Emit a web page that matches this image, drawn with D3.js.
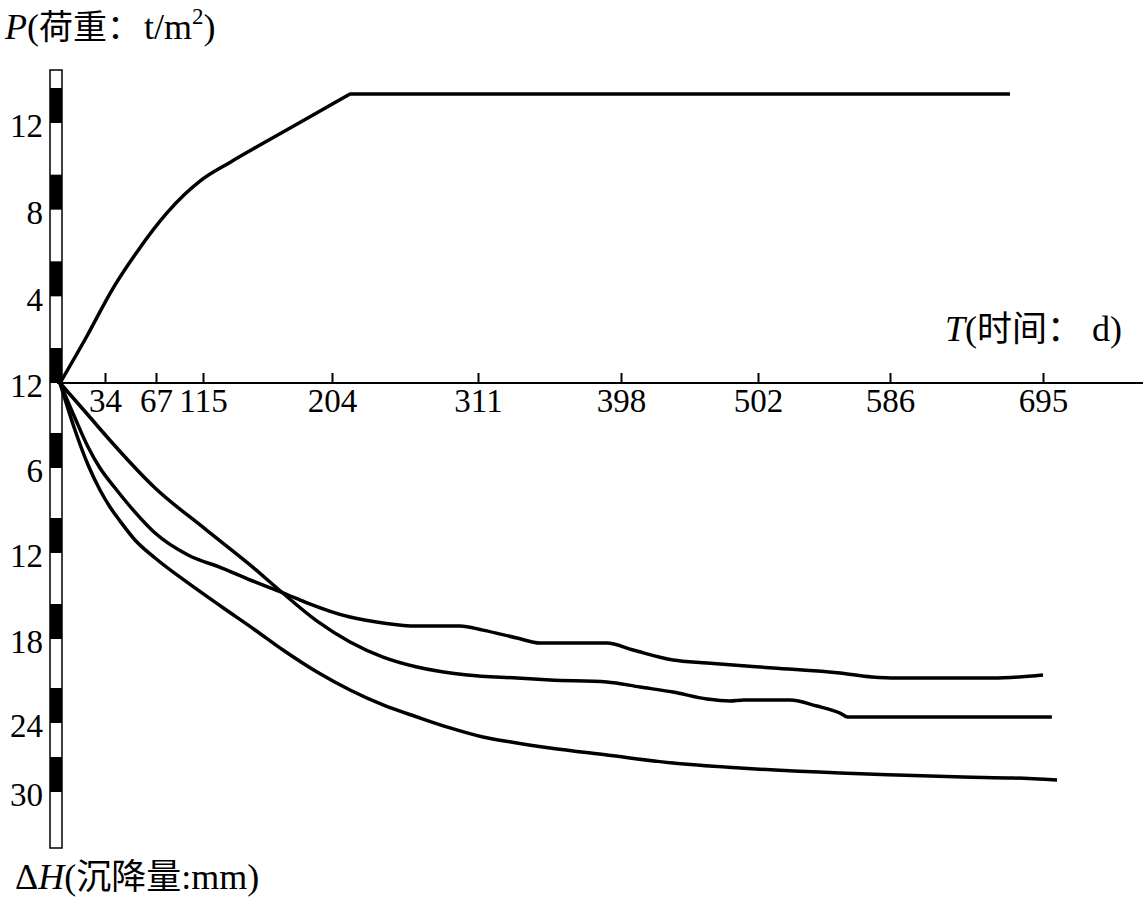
<!DOCTYPE html>
<html><head><meta charset="utf-8">
<script src="https://cdn.jsdelivr.net/npm/d3@7"></script>
<style>body{margin:0;background:#fff} svg{display:block}</style>
</head><body>
<script>
// ---- data ----
const timeTicks = [34, 67, 115, 204, 311, 398, 502, 586, 695];
const loadTicks = [4, 8, 12];
const settleTicks = [0, 6, 12, 18, 24, 30];
const settleTickLabels = ["12", "6", "12", "18", "24", "30"];

// load curve P (t/m2) vs time (d): rising part, then constant part
const loadT = [0, 20.4, 38.5, 54.7, 78.2, 96.6, 111.9, 133.6, 154.3, 180, 217.2];
const loadP = [0, 2.17, 4.29, 6.05, 7.85, 8.72, 9.32, 10.18, 10.98, 11.95, 13.34];
const loadFlatT = [217.2, 671.5];
const loadFlatP = [13.34, 13.34];

// settlement curve A (middle at end)
const setA_T = [0, 21.2, 35.9, 66.4, 116.4, 150.9, 166, 193.7, 217.2, 241.4, 266.3, 303, 334.7, 354.8, 389.4, 412.4, 437.5, 463.3, 480.7, 491.3, 522.4, 539.5, 554.2, 559.2, 701.3];
const setA_H = [0, 2.26, 3.88, 7.41, 10.3, 13.12, 14.44, 16.75, 18.21, 19.29, 20.0, 20.57, 20.79, 20.93, 21.07, 21.43, 21.79, 22.29, 22.43, 22.36, 22.36, 22.79, 23.29, 23.57, 23.57];

// settlement curve B (top at end)
const setB_T = [0, 11.3, 21.2, 30.2, 40.5, 53.4, 66.4, 99.7, 128.1, 150.9, 173.7, 185.4, 217.2, 241.4, 266.3, 297.8, 314, 334.7, 348.7, 389.4, 407.1, 437.5, 463.3, 511.5, 554.2, 574.5, 591, 659.3, 695];
const setB_H = [0, 2.47, 4.52, 6.0, 7.41, 9.11, 10.59, 12.14, 13.05, 14.02, 14.93, 15.42, 16.47, 16.88, 17.1, 17.1, 17.38, 17.93, 18.29, 18.29, 18.79, 19.5, 19.71, 20.07, 20.43, 20.71, 20.79, 20.79, 20.57];

// settlement curve C (bottom)
const setC_T = [0, 11.3, 21.2, 30.2, 37.2, 43.7, 53.4, 66.4, 99.7, 128.1, 150.9, 170.2, 193.7, 217.2, 241.4, 266.3, 290.5, 314, 334.7, 354.8, 389.4, 437.5, 488.3, 554.2, 591, 638, 673.6, 705];
const setC_H = [0, 3.32, 5.79, 7.55, 8.75, 9.74, 11.08, 12.35, 14.09, 15.77, 17.37, 18.79, 20.36, 21.64, 22.71, 23.57, 24.43, 25.22, 25.74, 26.17, 26.78, 27.48, 27.91, 28.35, 28.52, 28.7, 28.78, 28.96];

// ---- drawing ----
const W = 1148, H = 908;
const serif = "'Liberation Serif','Times New Roman',serif";
const cjk = "'Noto Sans CJK SC',sans-serif";
const svg = d3.select("body").append("svg").attr("width", W).attr("height", H)
  .style("font-family", serif);
svg.append("rect").attr("width", W).attr("height", H).attr("fill", "#fff");

const x = d3.scaleLinear().domain([0, ...timeTicks])
  .range([60, 105, 156, 203, 332, 478, 621, 758, 890, 1043]);
const yLoad = d3.scaleLinear().domain([0, 12]).range([383, 123]);
const ySet = d3.scaleLinear().domain(settleTicks).range([383, 468, 553, 639, 723, 792]);

// striped vertical bar
const barG = svg.append("g");
barG.append("rect").attr("x", 50).attr("y", 70).attr("width", 12).attr("height", 778)
  .attr("fill", "#fff").attr("stroke", "#000").attr("stroke-width", 1.5);
const blackEnds = [0, ...loadTicks].map(v => yLoad(v)).concat(settleTicks.slice(1).map(v => ySet(v)));
barG.selectAll("rect.blk").data(blackEnds).join("rect").attr("class", "blk")
  .attr("x", 50).attr("width", 12).attr("y", d => d - 35).attr("height", 35).attr("fill", "#000");

// time axis
svg.append("line").attr("x1", 57).attr("x2", 1143).attr("y1", 383).attr("y2", 383)
  .attr("stroke", "#000").attr("stroke-width", 2);
const xAxis = d3.axisBottom(x).tickValues(timeTicks).tickSizeInner(-10).tickSizeOuter(0).tickPadding(6);
const gx = svg.append("g").attr("transform", "translate(0,383)").call(xAxis);
gx.select(".domain").remove();
gx.selectAll(".tick line").attr("stroke", "#000").attr("stroke-width", 2);
gx.selectAll(".tick text").attr("font-size", 33).attr("fill", "#000").attr("font-family", serif);

// load axis labels
const yAxL = d3.axisLeft(yLoad).tickValues(loadTicks).tickSize(0).tickPadding(4);
const gyl = svg.append("g").attr("transform", "translate(47,0)").call(yAxL);
gyl.select(".domain").remove();
gyl.selectAll(".tick text").attr("font-size", 33).attr("fill", "#000").attr("dy", "0.42em")
  .attr("font-family", serif);

// settlement axis labels
const yAxS = d3.axisLeft(ySet).tickValues(settleTicks).tickSize(0).tickPadding(4)
  .tickFormat((d, i) => settleTickLabels[i]);
const gys = svg.append("g").attr("transform", "translate(47,0)").call(yAxS);
gys.select(".domain").remove();
gys.selectAll(".tick text").attr("font-size", 33).attr("fill", "#000").attr("dy", "0.42em")
  .attr("font-family", serif);

// curves
const lineLoad = d3.line().x(d => x(d[0])).y(d => yLoad(d[1])).curve(d3.curveMonotoneX);
const lineLoadFlat = d3.line().x(d => x(d[0])).y(d => yLoad(d[1]));
const lineSet = d3.line().x(d => x(d[0])).y(d => ySet(d[1])).curve(d3.curveMonotoneX);
const curveStyle = p => p.attr("fill", "none").attr("stroke", "#000").attr("stroke-width", 3.5)
  .attr("stroke-linejoin", "round").attr("stroke-linecap", "butt");
svg.append("path").attr("d", lineLoad(d3.zip(loadT, loadP)) + lineLoadFlat(d3.zip(loadFlatT, loadFlatP)).replace(/^M/, "L"))
  .call(curveStyle);
svg.append("path").attr("d", lineSet(d3.zip(setA_T, setA_H))).call(curveStyle);
svg.append("path").attr("d", lineSet(d3.zip(setB_T, setB_H))).call(curveStyle);
svg.append("path").attr("d", lineSet(d3.zip(setC_T, setC_H))).call(curveStyle);

// axis titles
const t1 = svg.append("text").attr("x", 5).attr("y", 39).attr("font-size", 36).attr("fill", "#000");
t1.append("tspan").attr("font-style", "italic").text("P");
t1.append("tspan").text("(");
t1.append("tspan").attr("font-family", cjk).attr("font-size", 34).text("荷重：");
t1.append("tspan").attr("dx", 3).text("t/m");
t1.append("tspan").attr("font-size", 23).attr("dy", -15).text("2");
t1.append("tspan").attr("dy", 15).text(")");

const t2 = svg.append("text").attr("x", 945).attr("y", 341).attr("font-size", 36).attr("fill", "#000");
t2.append("tspan").attr("font-style", "italic").text("T");
t2.append("tspan").text("(");
t2.append("tspan").attr("font-family", cjk).attr("font-size", 35).text("时间：");
t2.append("tspan").attr("dx", 10).text("d)");

const t3 = svg.append("text").attr("x", 15).attr("y", 889).attr("font-size", 36).attr("fill", "#000");
t3.append("tspan").text("Δ");
t3.append("tspan").attr("font-style", "italic").text("H");
t3.append("tspan").text("(");
t3.append("tspan").attr("font-family", cjk).attr("font-size", 35).text("沉降量");
t3.append("tspan").text(":mm)");
</script>
</body></html>
